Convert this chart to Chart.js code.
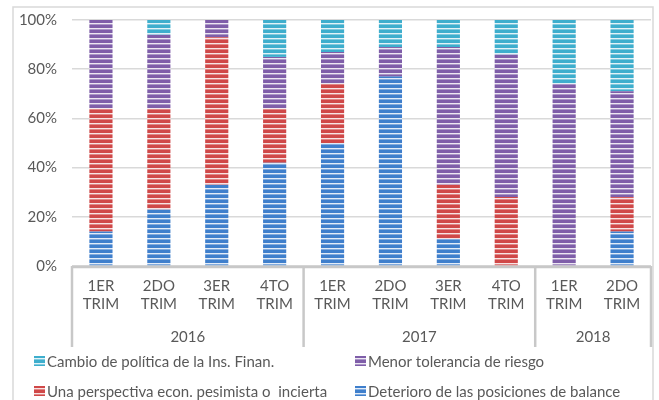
<!DOCTYPE html>
<html>
<head>
<meta charset="utf-8">
<script src="https://cdn.jsdelivr.net/npm/chart.js@4/dist/chart.umd.min.js"></script>
<style>
html,body{margin:0;padding:0;background:#fff;}
#wrap{position:relative;width:659px;height:400px;}
</style>
</head>
<body>
<div id="wrap"><canvas id="c" width="659" height="400"></canvas></div>
<script>
const quarters = [["1ER","TRIM"],["2DO","TRIM"],["3ER","TRIM"],["4TO","TRIM"],["1ER","TRIM"],["2DO","TRIM"],["3ER","TRIM"],["4TO","TRIM"],["1ER","TRIM"],["2DO","TRIM"]];
const years = ["2016","2017","2018"];
const yearCounts = [4,4,2];
const deterioro = [14,23,33,42,50,77,11,0,0,14];
const perspectiva = [50,41,60,22,24,0,22,28,0,14];
const tolerancia = [36,30,7,21,13,12,56,58,74,43];
const cambio = [0,6,0,15,13,11,11,14,26,29];
const yTicks = [0,20,40,60,80,100];

const FONT = "Lato, 'Open Sans', sans-serif";
const TXT = "#595959";

function stripe(color){
  const c = document.createElement('canvas');
  c.width = 4; c.height = 5;
  const g = c.getContext('2d');
  g.fillStyle = color; g.fillRect(0,0,4,5);
  g.fillStyle = 'rgba(255,255,255,0.85)'; g.fillRect(0,3,4,1);
  g.fillStyle = 'rgba(255,255,255,0.35)'; g.fillRect(0,4,4,1);
  return g.createPattern(c,'repeat');
}
const COLORS = {
  cambio:'#3eaecd', tolerancia:'#7f5ea9', perspectiva:'#d04848', deterioro:'#3f7fcc'
};

const series = [
  {label:'Deterioro de las posiciones de balance', data:deterioro, color:COLORS.deterioro},
  {label:'Una perspectiva econ. pesimista o  incierta', data:perspectiva, color:COLORS.perspectiva},
  {label:'Menor tolerancia de riesgo', data:tolerancia, color:COLORS.tolerancia},
  {label:'Cambio de política de la Ins. Finan.', data:cambio, color:COLORS.cambio}
];
const legendOrder = [
  {s:3,x:34,y:361},{s:2,x:355,y:361},{s:1,x:34,y:391},{s:0,x:355,y:391}
];

const decor = {
  id:'decor',
  beforeDraw(chart){
    const ctx = chart.ctx;
    ctx.save();
    ctx.strokeStyle = '#d9d9d9'; ctx.lineWidth = 1.5;
    ctx.strokeRect(13,7,640,420);
    ctx.restore();
  },
  afterDraw(chart){
    const ctx = chart.ctx;
    const xs = chart.scales.x;
    const ca = chart.chartArea;
    const half = (xs.getPixelForValue(1)-xs.getPixelForValue(0))/2;
    const bottom = 347;
    ctx.save();
    ctx.strokeStyle = '#c8c8c8'; ctx.lineWidth = 2.5;
    ctx.beginPath(); ctx.moveTo(ca.left, ca.bottom+1); ctx.lineTo(ca.right, ca.bottom+1); ctx.stroke();
    let idx = 0;
    const bounds = [];
    for (let g=0; g<years.length; g++){
      const l = xs.getPixelForValue(idx)-half;
      const r = xs.getPixelForValue(idx+yearCounts[g]-1)+half;
      bounds.push([l,r]);
      idx += yearCounts[g];
    }
    const lines = [bounds[0][0]];
    bounds.forEach(b=>lines.push(b[1]));
    lines.forEach(x=>{ctx.beginPath(); ctx.moveTo(x, ca.bottom); ctx.lineTo(x, bottom); ctx.stroke();});
    ctx.fillStyle = TXT; ctx.font = "15px " + FONT; ctx.textAlign='center'; ctx.textBaseline='middle';
    bounds.forEach((b,i)=>ctx.fillText(years[i], (b[0]+b[1])/2, 337));
    ctx.textAlign='left';
    legendOrder.forEach(it=>{
      const s = series[it.s];
      ctx.fillStyle = stripe(s.color);
      ctx.fillRect(it.x, it.y-5, 11, 10);
      ctx.fillStyle = TXT;
      ctx.fillText(s.label, it.x+13, it.y+1);
    });
    ctx.restore();
  }
};

new Chart(document.getElementById('c'), {
  type:'bar',
  data:{
    labels: quarters,
    datasets: series.map(s=>({label:s.label, data:s.data, backgroundColor:stripe(s.color), borderWidth:0, barPercentage:0.4, categoryPercentage:1.0}))
  },
  options:{
    responsive:false, animation:false,
    layout:{padding:{top:20,right:8,bottom:53,left:0}},
    plugins:{legend:{display:false}, tooltip:{enabled:false}, title:{display:false}},
    scales:{
      x:{stacked:true, grid:{display:false, drawTicks:false}, border:{display:false},
         ticks:{color:TXT, font:{family:FONT, size:15, lineHeight:1.2}, padding:11, maxRotation:0, autoSkip:false},
         afterFit(s){ s.height = 81; s.paddingLeft = 0; s.paddingRight = 0; }},
      y:{stacked:true, min:0, max:100,
         afterBuildTicks(s){ s.ticks = yTicks.map(v=>({value:v})); },
         grid:{color:'#d9d9d9', lineWidth:1.5, drawTicks:false}, border:{display:false},
         ticks:{color:TXT, font:{family:FONT, size:15}, padding:15, callback:v=>v+'%'},
         afterFit(s){ s.width = 72; s.paddingTop = 0; s.paddingBottom = 0; }}
    }
  },
  plugins:[decor]
});
</script>
</body>
</html>
